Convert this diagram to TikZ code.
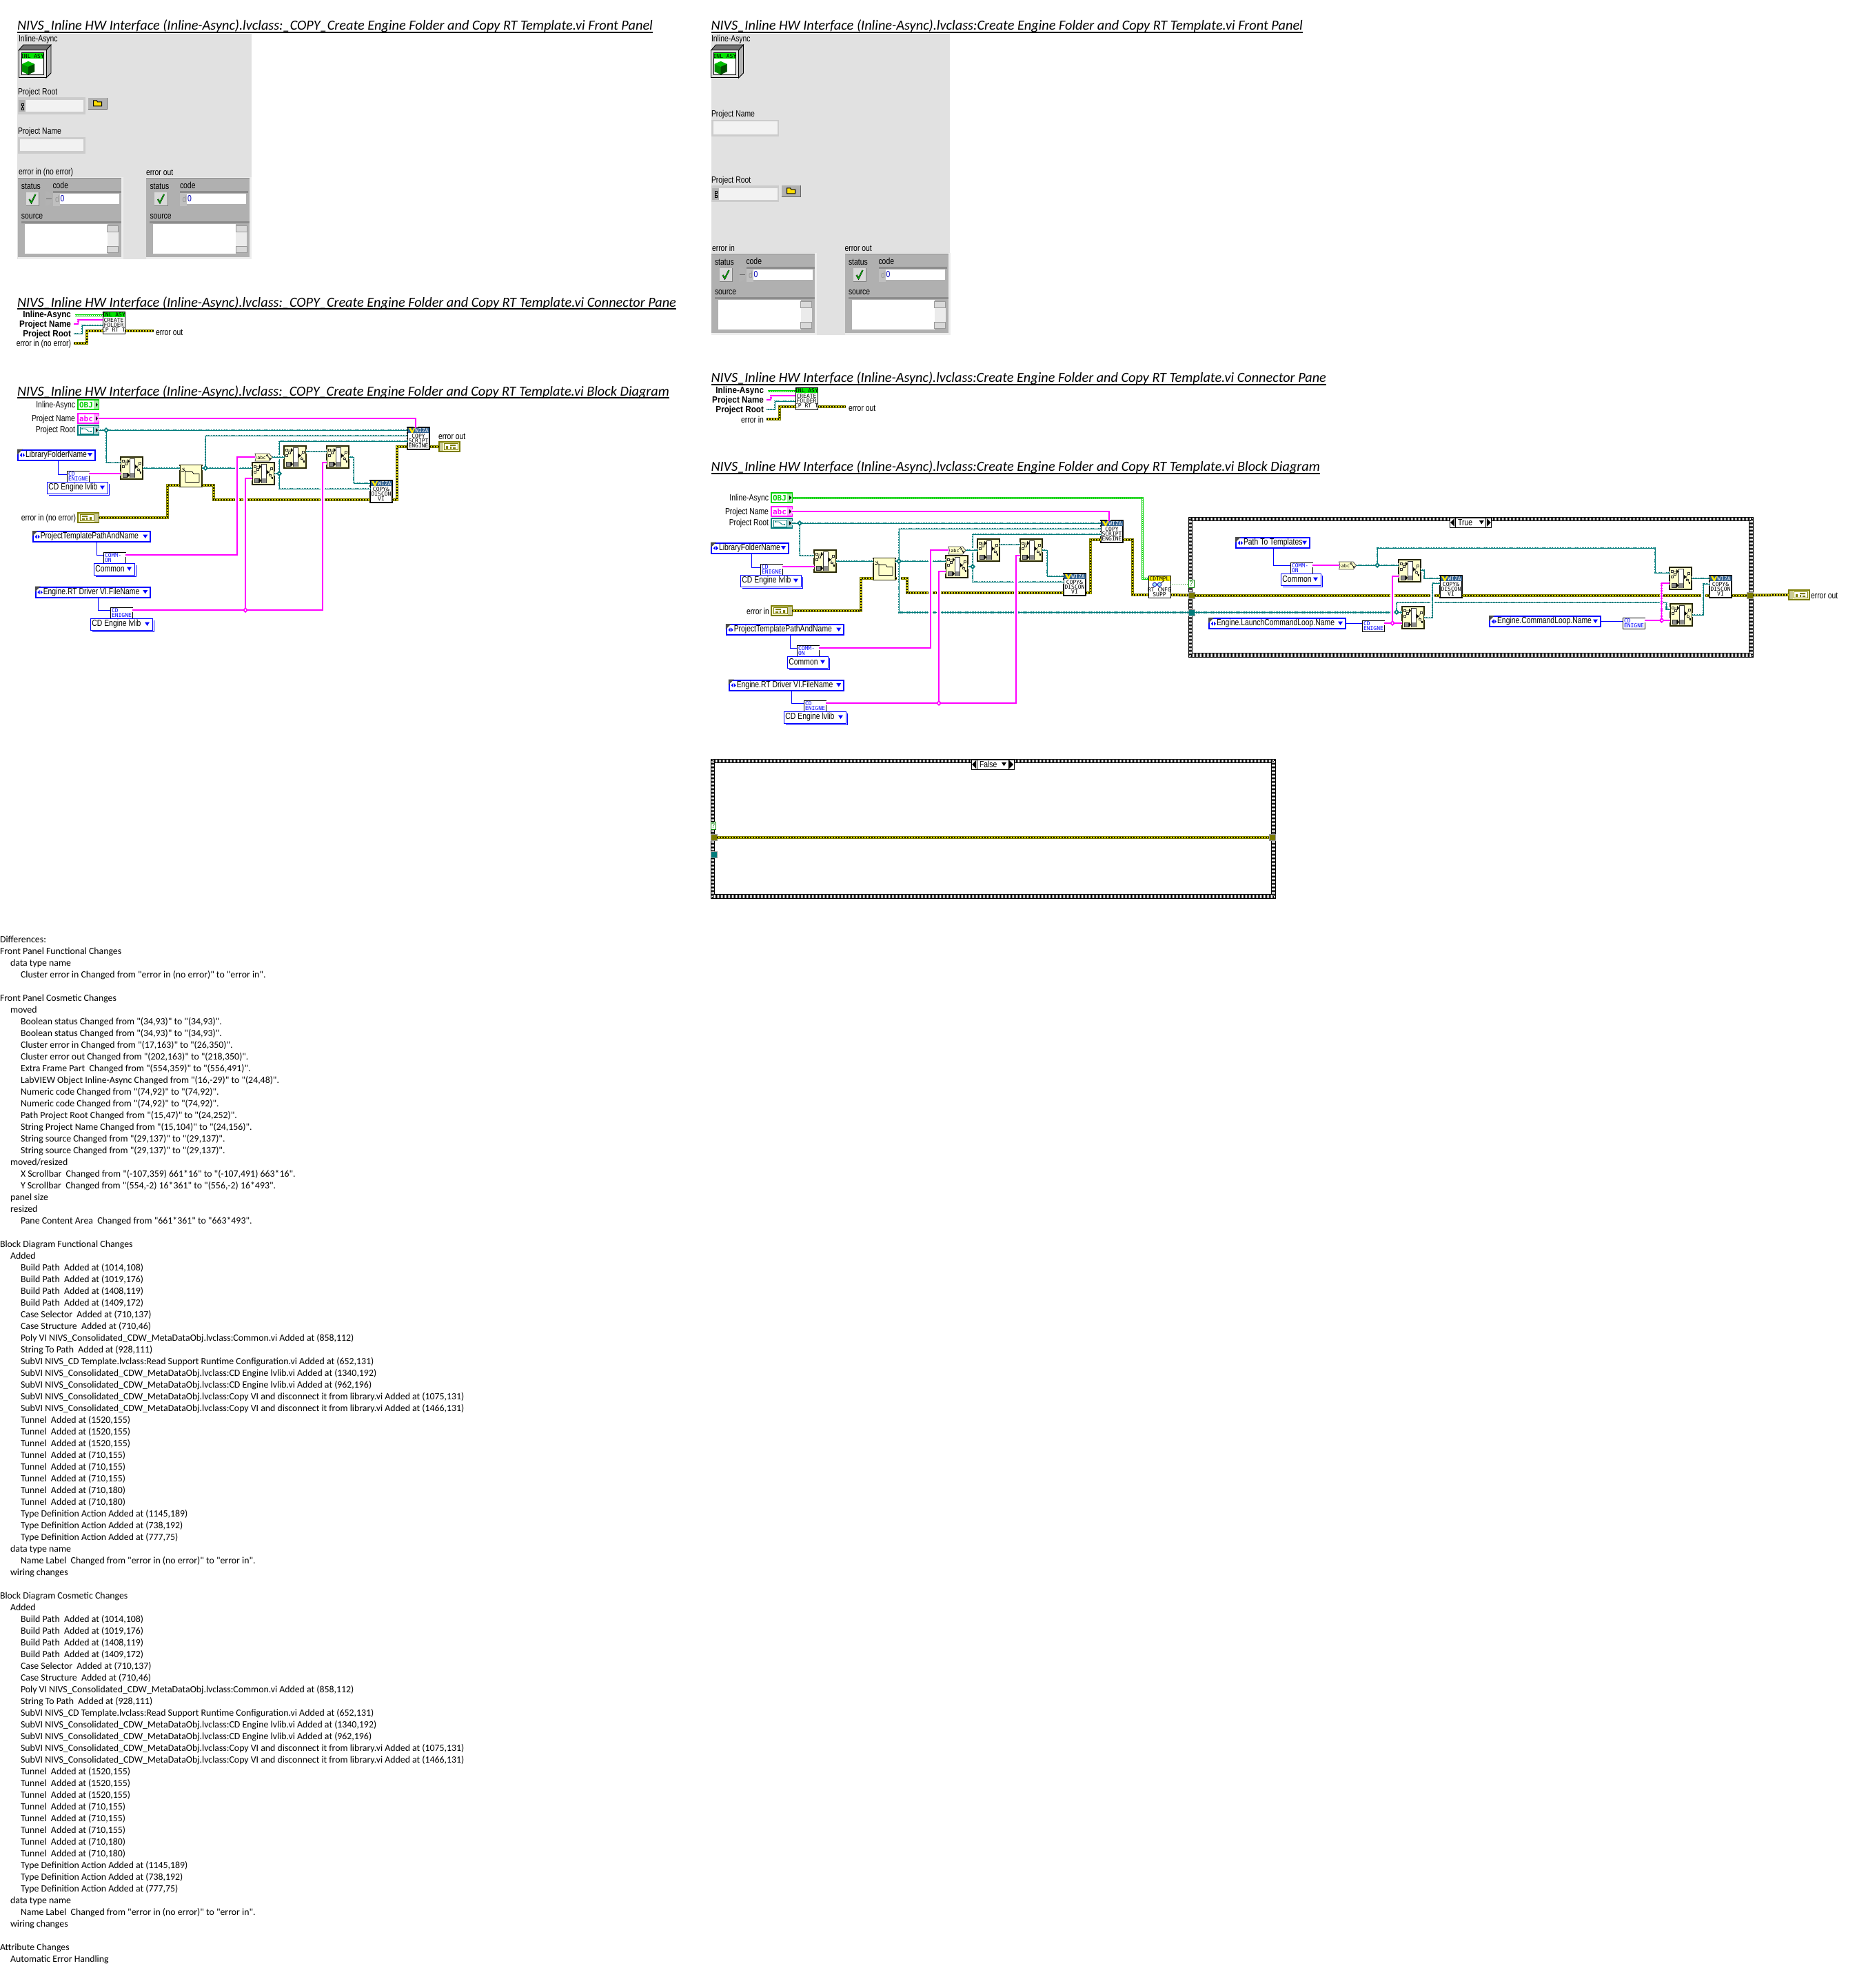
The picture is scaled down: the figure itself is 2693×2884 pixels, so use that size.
\documentclass[tikz,border=0pt]{standalone}
\usepackage{fontspec}
\usepackage{graphicx}
\setmainfont{Carlito}
\newfontfamily\calf{Carlito}
\newfontfamily\lvf[FakeStretch=0.8]{Liberation Sans}
\newfontfamily\lvfb[FakeStretch=0.9]{Liberation Sans}
\newfontfamily\icof{DejaVu Sans Mono}
\definecolor{lvteal}{HTML}{007B7B}
\definecolor{lvpink}{HTML}{FF00FF}
\definecolor{lvolive}{HTML}{7B7B00}
\definecolor{lvgreen}{HTML}{00D000}
\definecolor{lvblue}{HTML}{0000FF}
\definecolor{lvpale}{HTML}{FFFFCC}
\definecolor{lvpanel}{HTML}{E1E1E1}
\definecolor{lvclu}{HTML}{B0B0B0}
\definecolor{lvrim}{HTML}{EDEDED}
\definecolor{lvwiz}{HTML}{2F5F8F}
\tikzset{
 lab/.style={inner sep=0,outer sep=0,font=\lvf\fontsize{6.5}{7}\selectfont},
 dtxt/.style={anchor=base west,inner sep=0,outer sep=0,font=\calf\fontsize{6.92}{8.5}\selectfont},
 wteal/.style={draw=lvteal,line width=.5pt,preaction={draw=white,line width=2.75pt},postaction={draw=lvteal,line width=1.25pt,dash pattern=on .6pt off .6pt}},
 wpink/.style={draw=lvpink,line width=.75pt,preaction={draw=white,line width=2.75pt},postaction={draw=lvpink,line width=1.25pt,dash pattern=on .6pt off .6pt}},
 werr/.style={draw=lvolive,line width=2pt,postaction={draw=yellow,line width=1pt},postaction={draw=black,line width=1pt,dash pattern=on 1pt off 1pt}},
 wgreen/.style={draw=lvgreen,line width=1.5pt,postaction={draw=white,line width=.5pt,dash pattern=on 1pt off .5pt}},
 wblue/.style={draw=lvblue,line width=.5pt},
 wdot/.style={draw=green!50!black,line width=.5pt,dash pattern=on .5pt off 1pt},
 ico/.style={rectangle,draw=black,line width=.5pt,fill=white,inner sep=0,outer sep=0,minimum width=16pt,minimum height=16pt},
 ybox/.style={rectangle,draw=black!70!lvolive,line width=.6pt,fill=lvpale,inner sep=0,outer sep=0,minimum width=16pt,minimum height=16pt},
 small/.style={rectangle,draw=black,line width=.5pt,fill=white,inner sep=0,outer sep=0,minimum width=16pt,minimum height=8pt},
 icotxt/.style={inner sep=0,outer sep=0,align=center,font=\icof\fontsize{4}{3.5}\selectfont},
 term/.style={rectangle,line width=1pt,fill=white,inner sep=0,outer sep=0,minimum width=15pt,minimum height=7pt},
 ringb/.style={rectangle,draw=lvblue,line width=1pt,fill=white,inner sep=0,outer sep=0,minimum height=7.5pt},
 valb/.style={rectangle,draw=lvblue,line width=.5pt,fill=white,inner sep=0,outer sep=0,minimum height=8.5pt},
 tun/.style={rectangle,draw=black!40,line width=.25pt,inner sep=0,outer sep=0,minimum width=4.5pt,minimum height=4.5pt},
 selb/.style={rectangle,draw=black,line width=.5pt,fill=white,inner sep=0,outer sep=0,minimum height=7pt},
 frmb/.style={rectangle,draw=black,fill=white,line width=.5pt,inner sep=0,outer sep=0},
}
% ---- icons
\newcommand\lvbp[3]{%
 \node[ybox] (#1) at (#2,#3) {};
 \begin{scope}[shift={(#2,#3)}]
  \draw[black!80,line width=.5pt,fill=white] (-2.3,-13.7) rectangle (4,13.7);
  \draw[black!80,line width=.5pt,fill=black!45] (-13,7) rectangle (-6.7,13.7);
  \fill[black!45] (-2.3,7) rectangle (4,13.7);
  \fill[black] (-6,6.5) -- (-3,10.3) -- (-6,14) -- cycle;
  \draw[black!70,line width=.3pt] (-12,-10) -- (-8,-6) -- (-12,-2) (-12,-10) -- (-6,-10);
  \fill[black] (-6,-13) -- (-3,-10) -- (-6,-7) -- cycle;
  \draw[black!80,line width=.35pt,fill=lvpale] (-13.2,-11.2) rectangle (-10.8,-8.8) (-9.2,-7.2) rectangle (-6.8,-4.8) (-13.2,-3.2) rectangle (-10.8,-.8);
  \draw[black!70,line width=.3pt] (4,-2) -- (8,-2) (8,-2) -- (12,-7) (8,-2) -- (12,6);
  \fill[black] (5,-5) -- (8.5,-2) -- (5,1) -- cycle;
  \draw[black!80,line width=.35pt,fill=lvpale] (10.8,-8.2) rectangle (13.2,-5.8) (8.8,1) rectangle (11.2,3.4);
  \fill[black] (11.5,5) rectangle (14,7.5);
 \end{scope}}
\newcommand\lvfold[3]{%
 \node[ybox] (#1) at (#2,#3) {};
 \begin{scope}[shift={(#2,#3)}]
  \draw[black,line width=.4pt,fill=lvpale] (-8,-6) -- (2,-6) -- (4,-3) -- (12,-3) -- (12,9) -- (-8,9) -- cycle;
  \draw[black,line width=.3pt] (-13,-11) -- (-7,-6) (-10,-12) -- (-10,-8) (-14,-7) -- (-10,-7);
 \end{scope}}
\newcommand\lvwiz[4]{%
 \node[ico,line width=.75pt] (#1) at (#2,#3) {};
 \begin{scope}[shift={(#2,#3)}]
  \fill[lvwiz] (-15.5,-15.5) rectangle (15.5,-8);
  \fill[yellow!90!orange] (-14,-15) -- (-11,-15) -- (-9,-11) -- (-7,-15) -- (-5,-15) -- (-8,-8) -- (-10,-8) -- cycle;
  \node[icotxt,text=white] (#1w) at (5,-11.7) {WIZA};
  \node[icotxt,text=black] (#1t) at (0,3.5) {#4};
 \end{scope}}
\newcommand\lvsmall[4]{%
 \node[small] (#1) at (#2,#3) {};
 \node[icotxt,align=left,text=lvblue,anchor=west] (#1t) at ([xshift=1pt]#1.west) {#4};}
\newcommand\lvring[5]{% name cx cy w text
 \node[ringb,minimum width=#4*.5pt-1pt] (#1) at (#2,#3) {};
 \fill[black!70] ([shift={(-.5pt,.5pt)}]#1.north west) -- ([shift={(3.5pt,.5pt)}]#1.north west) -- ([shift={(-.5pt,-3.5pt)}]#1.north west) -- cycle;
 \fill[lvblue] ([xshift=1.4pt,yshift=-.2pt]#1.west) -- ([xshift=2.9pt,yshift=1.5pt]#1.west) -- ([xshift=2.9pt,yshift=-1.5pt]#1.west) -- cycle;
 \fill[lvblue] ([xshift=5pt,yshift=-.2pt]#1.west) -- ([xshift=3.5pt,yshift=1.5pt]#1.west) -- ([xshift=3.5pt,yshift=-1.5pt]#1.west) -- cycle;
 \fill[lvblue] ([xshift=-5.5pt,yshift=1.5pt]#1.east) -- ([xshift=-2pt,yshift=1.5pt]#1.east) -- ([xshift=-3.75pt,yshift=-1.2pt]#1.east) -- cycle;
 \node[lab,anchor=west] (#1t) at ([xshift=5.5pt]#1.west) {#5};}
\newcommand\lvval[5]{% name cx cy w text
 \draw[lvblue,line width=.5pt] (#2-#4/2+3,#3+8.5+2) -- (#2+#4/2+2.5,#3+8.5+2) -- (#2+#4/2+2.5,#3-8.5+3);
 \node[valb,minimum width=#4*.5pt] (#1) at (#2,#3) {};
 \fill[lvblue] ([xshift=-5.5pt,yshift=1.5pt]#1.east) -- ([xshift=-2pt,yshift=1.5pt]#1.east) -- ([xshift=-3.75pt,yshift=-1.2pt]#1.east) -- cycle;
 \node[lab,anchor=west] (#1t) at ([xshift=1.2pt]#1.west) {#5};}
\newcommand\lvterm[5]{% name x y color content
 \node[term,draw=#4] (#1) at (#2,#3) {};
 \begin{scope}[shift={(#2,#3)}]
  \fill[#4!35] (8,-6) rectangle (14.5,6);
  \fill[black] (11,-3) -- (14,0) -- (11,3) -- cycle;
  #5
 \end{scope}}
\newcommand\lverr[4]{% name x y dir
 \node[term,draw=lvolive,fill=lvpale] (#1) at (#2,#3) {};
 \begin{scope}[shift={(#2,#3)},xscale=#4]
  \fill[lvolive!40] (9,-6) rectangle (14.5,6);
  \draw[lvolive,line width=.5pt,fill=white] (-12,-4.5) rectangle (8,4.5);
  \fill[lvolive] (-9,-3) rectangle (-1,-1) (-9,1) rectangle (-5,3) (-3,0) rectangle (-1,3) (2,-1) rectangle (5,3);
 \end{scope}}
\newcommand\lvsel[5]{% name cx cy w text
 \node[selb,minimum width=#4*.5pt] (#1) at (#2,#3) {};
 \draw[black,line width=.5pt] ([xshift=4pt]#1.north west) -- ([xshift=4pt]#1.south west);
 \draw[black,line width=.5pt] ([xshift=-4pt]#1.north east) -- ([xshift=-4pt]#1.south east);
 \fill[black] ([xshift=.5pt]#1.west) -- ([xshift=3.5pt,yshift=3pt]#1.west) -- ([xshift=3.5pt,yshift=-3pt]#1.west) -- cycle;
 \fill[black] ([xshift=-.5pt]#1.east) -- ([xshift=-3.5pt,yshift=3pt]#1.east) -- ([xshift=-3.5pt,yshift=-3pt]#1.east) -- cycle;
 \fill[black] ([xshift=-9pt,yshift=1.5pt]#1.east) -- ([xshift=-5.5pt,yshift=1.5pt]#1.east) -- ([xshift=-7.25pt,yshift=-1.2pt]#1.east) -- cycle;
 \node[lab,anchor=west] (#1t) at ([xshift=6pt]#1.west) {#5};}
\newcommand\lvframe[5]{% name cx cy w h (outer size)
 \node[frmb,minimum width=#4*.5pt,minimum height=#5*.5pt] (#1) at (#2,#3) {};
 \foreach \lvo/\lvp in {1/0,2/.5,3/0,4/.5,5/0}{
  \draw[black,line width=.5pt,dash pattern=on .5pt off .5pt,dash phase=\lvp pt] ([shift={(\lvo,-\lvo)}]#1.south west) rectangle ([shift={(-\lvo,\lvo)}]#1.north east);}
 \draw[black,line width=.3pt] ([shift={(5.7,-5.7)}]#1.south west) rectangle ([shift={(-5.7,5.7)}]#1.north east);}
\newcommand\lvjdot[2]{%
 \fill[#2] ([shift={(-4,0)}]#1) -- ([shift={(0,-4)}]#1) -- ([shift={(4,0)}]#1) -- ([shift={(0,4)}]#1) -- cycle;
 \fill[white] ([shift={(-1,-1)}]#1) rectangle ([shift={(1,1)}]#1);}
% ---- front panel parts
\newcommand\lvobj[3]{% name x y
 \begin{scope}[shift={(#2,#3)}]
  \draw[black,line width=.4pt,fill=black!55] (0,8) -- (7,0) -- (47,0) -- (40,8) -- cycle;
  \draw[black,line width=.4pt,fill=black!30] (40,8) -- (47,0) -- (47,41) -- (40,48) -- cycle;
  \draw[black,line width=.5pt,fill=black!12] (0,8) rectangle (40,48);
  \draw[black,line width=.5pt,fill=white] (4,12) rectangle (36,44);
  \fill[green!90!black] (4.5,12.5) rectangle (35.5,20);
  \node[icotxt,text=black] (#1) at (20,16.2) {INL ASY};
  \fill[green!55!black] (5,28) -- (14,24) -- (23,28) -- (23,39) -- (14,43) -- (5,39) -- cycle;
  \fill[green!75!black] (5,28) -- (14,24) -- (23,28) -- (14,32) -- cycle;
  \fill[black!70!green] (14,32) -- (23,28) -- (23,39) -- (14,43) -- cycle;
 \end{scope}}
\newcommand\lvbrowse[3]{% name x y
 \begin{scope}[shift={(#2,#3)}]
  \fill[black!30] (0,0) rectangle (27.5,16);
  \draw[black!60,line width=.25pt] (0,16) -- (27.5,16) -- (27.5,0);
  \draw[black,line width=.5pt,fill=yellow!80!orange] (8,4) -- (13,4) -- (14,6) -- (20,6) -- (20,12) -- (8,12) -- cycle;
  \coordinate (#1) at (0,0);
 \end{scope}}
\newcommand\lvcheck[2]{%
 \fill[black!15] (#1,#2) rectangle (#1+19,#2+19);
 \draw[black!50,line width=.25pt] (#1+19,#2) -- (#1+19,#2+19) -- (#1,#2+19);
 \draw[black,line width=1.1pt] (#1+5,#2+10) -- (#1+8,#2+15) -- (#1+14,#2+3);
 \draw[green!70!black,line width=.6pt] (#1+5,#2+10) -- (#1+8,#2+15) -- (#1+14,#2+3);}
\newcommand\lvcluster[4]{% prefix x y fieldshift
 \begin{scope}[shift={(#2,#3)}]
  \fill[lvrim] (0,0) rectangle (153,119);
  \fill[lvclu] (0,2) rectangle (150,116);
  \draw[black!45,line width=.5pt] (0,2) -- (150,2);
  \node[lab,anchor=west] (#1st) at (5.5,13) {status};
  \lvcheck{12}{22}
  \node[lab,anchor=west] (#1so) at (5.5,57) {source};
  \begin{scope}[shift={(#4,0)}]
   \node[lab,anchor=west] (#1co) at (51,12) {code};
   \fill[black!45] (51,20) rectangle (150,23);
   \fill[black!25] (51,23) rectangle (61,42);
   \fill[white] (61,24) rectangle (147,39);
   \node[lab,anchor=west,text=black!40] (#1d) at (54.5,31.5) {d};
   \node[lab,anchor=west,text=lvblue!70!black] (#1z) at (62,31.5) {0};
  \end{scope}
  \fill[black!45] (5,64) rectangle (150,67);
  \fill[white] (10,68) rectangle (130,111);
  \fill[black!8] (130,70) rectangle (146,109);
  \draw[black!40,line width=.25pt,fill=black!15] (130,70) rectangle (146,79);
  \draw[black!40,line width=.25pt,fill=black!15] (130,100) rectangle (146,109);
 \end{scope}}
\newcommand\lvspin[2]{%
 \fill[black!30] (#1,#2) .. controls (#1+3,#2+1) and (#1+10,#2+2) .. (#1+10,#2+11) .. controls (#1+10,#2+20) and (#1+3,#2+22) .. (#1,#2+22) -- cycle;
 \draw[black!60,line width=.3pt] (#1+1,#2+11) -- (#1+9,#2+11);}
% ---- connector pane
\newcommand\lvcp[3]{% error in label, right end of out wire, error-out label x
 \coordinate (iw) at (108.5,457);
 \coordinate (nw) at (107,470);
 \coordinate (rw) at (107,484);
 \coordinate (ew) at (107,498);
 \coordinate (ow) at (#2,480);
 \node[ico] (cp) at (165,468) {};
 \fill[green!90!black] (149.5,452.5) rectangle (180.5,460);
 \node[icotxt,text=black] (cpa) at (165,456.4) {INL ASY};
 \node[icotxt,text=black] (cpb) at (165,472) {CREATE\\FOLDER\\CP RT T};
 \node[lab,anchor=east,font=\lvfb\bfseries\fontsize{6.5}{7}\selectfont] (l1) at (103,457) {Inline-Async};
 \node[lab,anchor=east,font=\lvfb\bfseries\fontsize{6.5}{7}\selectfont] (l2) at (103,471) {Project\ Name};
 \node[lab,anchor=east,font=\lvfb\bfseries\fontsize{6.5}{7}\selectfont] (l3) at (103,485) {Project\ Root};
 \node[lab,anchor=east] (l4) at (103,499) {#1};
 \node[lab,anchor=west] (l5) at (#3,482) {error out};
 \draw[werr] (ew) -- (125.6,498) -- (125.6,480) -- (cp.west |- 0,480);
 \draw[werr] (cp.east |- 0,480) -- (ow);
 \draw[wteal] (rw) -- (119,484) -- (119,472) -- (cp.west |- 0,472);
 \draw[wpink] (nw) -- (113.5,470) -- (113.5,464) -- (cp.west |- 0,464);
 \draw[wgreen] (iw) -- (cp.west |- iw);}
\newcommand\lvstp[3]{%
 \node[inner sep=0,outer sep=0,minimum width=12.5pt,minimum height=5.5pt] (#1) at (#2,#3) {};
 \begin{scope}[shift={(#2,#3)}]
  \draw[black!70,line width=.4pt,fill=lvpale] (-12.5,-5.5) -- (8,-5.5) -- (12.5,0) -- (8,5.5) -- (-12.5,5.5) -- (-11,0) -- cycle;
  \node[icotxt,font=\icof\fontsize{3.4}{3.4}\selectfont] (#1t) at (-3,.3) {abc};
  \draw[black,line width=.3pt] (5,-3) -- (9,2);
  \draw[black,line width=.3pt,fill=white] (5,-3) circle[radius=1.2] (9,2) circle[radius=1.2];
 \end{scope}}
% ---- common block diagram
\newcommand\lvbd[2]{% error in label, hook drawn after the error wires
 \node[lab,anchor=east] (ial) at (109,588) {Inline-Async};
 \node[lab,anchor=east] (pnl) at (109,608) {Project Name};
 \node[lab,anchor=east] (prl) at (109,624) {Project Root};
 \node[lab,anchor=east] (eil) at (110,752) {#1};
 \lvterm{ia}{128}{587}{lvgreen}{\node[icotxt,text=lvgreen,font=\icof\bfseries\fontsize{5.5}{5.5}\selectfont] (iat) at (-3,0) {OBJ};}
 \lvterm{pn}{128}{607}{lvpink}{\node[icotxt,text=lvpink,font=\icof\bfseries\fontsize{5.5}{5.5}\selectfont] (pnt) at (-3,0) {abc};}
 \lvterm{pr}{128}{624}{lvteal}{\draw[lvteal,line width=.4pt,fill=white] (-12,-5) rectangle (7,5); \draw[lvteal,line width=.4pt] (-9,-2) -- (-4,-2) -- (1,2) -- (5,2); \fill[lvteal] (-9,-2) circle[radius=1.2] (4,2) circle[radius=1.2];}
 \lverr{ei}{128}{751}{1}
 \lvring{lfn}{82}{660}{114}{LibraryFolderName}
 \lvsmall{cd1}{113}{691}{CD\\ENIGNE}
 \lvval{vcd1}{112}{707.5}{88}{CD Engine lvlib}
 \lvring{ptn}{133}{778.5}{172.5}{ProjectTemplatePathAndName}
 \lvsmall{com}{166}{809}{COMM-\\ON}
 \lvval{vcom}{165.5}{825.5}{59}{Common}
 \lvring{ert}{135}{859}{168.5}{Engine.RT Driver VI.FileName}
 \lvsmall{cd2}{176}{889}{CD\\ENIGNE}
 \lvval{vcd2}{176}{905.5}{90}{CD Engine lvlib}
 \lvbp{bp1}{191}{679}
 \lvfold{fo}{277}{690.5}
 \lvbp{bp2}{382}{687}
 \lvbp{bp3}{428}{663}
 \lvbp{bp4}{490}{663}
 \lvstp{stp}{382.5}{663.5}
 \lvwiz{cd}{553}{713}{COPY\&\\DISCON\\VI}
 \lvwiz{cs}{607}{636}{COPY\\SCRIPT\\ENGINE}
 \coordinate (j1) at (154,624);
 \coordinate (j2) at (298,679);
 \coordinate (j3) at (405,687);
 \coordinate (j4) at (356,885);
 % error
 \draw[werr] (ei.east) -- (243,751) -- (243,704) -- (fo.west |- 0,704);
 \draw[werr] (fo.east |- 0,704) -- (310,704) -- (310,725) -- (cd.west |- 0,725);
 \draw[werr] (cd.east |- 0,725) -- (576,725) -- (576,648) -- (cs.west |- 0,648);
 % blue
 \draw[wblue] (lfn.south -| 84,0) -- (84,688) -- (cd1.west |- 0,688);
 \draw[wblue] (ptn.south -| 140,0) -- (140,805) -- (com.west |- 0,805);
 \draw[wblue] (ert.south -| 142,0) -- (142,885) -- (cd2.west |- 0,885);
 #2
 % teal
 \draw[wteal] (j1) -- (154,671) -- (bp1.west |- 0,671);
 \draw[wteal] (pr.east |- 0,624) -- (cs.west |- 0,624);
 \draw[wteal] (bp1.east |- 0,679) -- (fo.west |- 0,679);
 \draw[wteal] (j2) -- (298,632) -- (cs.west |- 0,632);
 \draw[wteal] (fo.east |- 0,679) -- (bp2.west |- 0,679);
 \draw[wteal] (j3) -- (405,640) -- (cs.west |- 0,640);
 \draw[wteal] (j3) -- (405,709) -- (cd.west |- 0,709);
 \draw[wteal] (bp2.east |- 0,687) -- (j3);
 \draw[wteal] (stp.east |- 0,663) -- (bp3.west |- 0,663);
 \draw[wteal] (bp3.east |- 0,655) -- (bp4.west |- 0,655);
 \draw[wteal] (bp4.east |- 0,663) -- (513,663) -- (513,701) -- (cd.west |- 0,701);
 % magenta
 \draw[wpink] (cd1.east |- 0,687) -- (bp1.west |- 0,687);
 \draw[wpink] (pn.east) -- (603,607) -- (cs.north -| 603,0);
 \draw[wpink] (com.east |- 0,805) -- (344,805) -- (344,663) -- (stp.west |- 0,663);
 \draw[wpink] (j4) -- (356,694) -- (bp2.west |- 0,694);
 \draw[wpink] (cd2.east |- 0,885) -- (468,885) -- (468,671) -- (bp4.west |- 0,671);
 \lvjdot{j1}{lvteal}
 \lvjdot{j2}{lvteal}
 \lvjdot{j3}{lvteal}
 \lvjdot{j4}{lvpink}}
% ---- differences text
\newcount\lvln
\newcommand\dl[2]{\node[dtxt] (d\the\lvln) at (#1,{1367+17*\the\lvln}) {#2};\global\advance\lvln by 1\relax}
\newcommand\lO[1]{\dl{0}{#1}}
\newcommand\lI[1]{\dl{15}{#1}}
\newcommand\lII[1]{\dl{30}{#1}}
\newcommand\lB{\global\advance\lvln by 1\relax}
\newcommand\lvadded{%
\lI{Added}
\lII{Build Path\ \ Added at (1014,108)}
\lII{Build Path\ \ Added at (1019,176)}
\lII{Build Path\ \ Added at (1408,119)}
\lII{Build Path\ \ Added at (1409,172)}
\lII{Case Selector\ \ Added at (710,137)}
\lII{Case Structure\ \ Added at (710,46)}
\lII{Poly VI NIVS\_Consolidated\_CDW\_MetaDataObj.lvclass:Common.vi Added at (858,112)}
\lII{String To Path\ \ Added at (928,111)}
\lII{SubVI NIVS\_CD Template.lvclass:Read Support Runtime Configuration.vi Added at (652,131)}
\lII{SubVI NIVS\_Consolidated\_CDW\_MetaDataObj.lvclass:CD Engine lvlib.vi Added at (1340,192)}
\lII{SubVI NIVS\_Consolidated\_CDW\_MetaDataObj.lvclass:CD Engine lvlib.vi Added at (962,196)}
\lII{SubVI NIVS\_Consolidated\_CDW\_MetaDataObj.lvclass:Copy VI and disconnect it from library.vi Added at (1075,131)}
\lII{SubVI NIVS\_Consolidated\_CDW\_MetaDataObj.lvclass:Copy VI and disconnect it from library.vi Added at (1466,131)}
\lII{Tunnel\ \ Added at (1520,155)}
\lII{Tunnel\ \ Added at (1520,155)}
\lII{Tunnel\ \ Added at (1520,155)}
\lII{Tunnel\ \ Added at (710,155)}
\lII{Tunnel\ \ Added at (710,155)}
\lII{Tunnel\ \ Added at (710,155)}
\lII{Tunnel\ \ Added at (710,180)}
\lII{Tunnel\ \ Added at (710,180)}
\lII{Type Definition Action Added at (1145,189)}
\lII{Type Definition Action Added at (738,192)}
\lII{Type Definition Action Added at (777,75)}
\lI{data type name}
\lII{Name Label\ \ Changed from "error in (no error)" to "error in".}
\lI{wiring changes}}
\newcommand\lvtitle[5]{% name x baseline width text
 \node[anchor=base west,inner sep=0,outer sep=0,font=\calf\itshape\fontsize{9.5}{11}\selectfont] (#1) at (#2,#3) {\resizebox{#4}{!}{#5}};
 \draw[black,line width=1pt] ([yshift=-1.5pt]#1.base west) -- ([yshift=-1.5pt]#1.base east);}
\begin{document}
\begin{tikzpicture}[x=.5pt,y=-.5pt,line join=miter,line cap=butt]
\path[use as bounding box,fill=white] (0,0) rectangle (2693,2884);
% titles
\lvtitle{t1}{25}{44}{461pt}{NIVS\_Inline HW Interface (Inline-Async).lvclass:\_COPY\_Create Engine Folder and Copy RT Template.vi Front Panel}
\lvtitle{t2}{25}{445}{478pt}{NIVS\_Inline HW Interface (Inline-Async).lvclass:\_COPY\_Create Engine Folder and Copy RT Template.vi Connector Pane}
\lvtitle{t3}{25}{574}{473pt}{NIVS\_Inline HW Interface (Inline-Async).lvclass:\_COPY\_Create Engine Folder and Copy RT Template.vi Block Diagram}
\lvtitle{t4}{1031.5}{44}{429.25pt}{NIVS\_Inline HW Interface (Inline-Async).lvclass:Create Engine Folder and Copy RT Template.vi Front Panel}
\lvtitle{t5}{1031.5}{554.5}{446.25pt}{NIVS\_Inline HW Interface (Inline-Async).lvclass:Create Engine Folder and Copy RT Template.vi Connector Pane}
\lvtitle{t6}{1031.5}{683.7}{441.75pt}{NIVS\_Inline HW Interface (Inline-Async).lvclass:Create Engine Folder and Copy RT Template.vi Block Diagram}
% ---------- front panel 1
\fill[lvpanel] (25,49) rectangle (365,376);
\node[lab,anchor=west] (fa1) at (27,57) {Inline-Async};
\lvobj{ob1}{27}{65}
\node[lab,anchor=west] (fr1) at (26,134) {Project Root};
\fill[black!20] (25.5,141) rectangle (124,166);
\fill[white!95!black] (37,145) rectangle (121,162);
\fill[black!30] (27,145) rectangle (37,162);
\draw[black,line width=.4pt] (31,150) rectangle (34,153) (32.5,153) -- (32.5,156) (31,156) rectangle (34,159);
\lvbrowse{br1}{127.5}{142}
\node[lab,anchor=west] (fn1) at (26,191) {Project Name};
\fill[black!20] (25.5,199) rectangle (124,223);
\fill[white!95!black] (29,202) rectangle (121,219);
\node[lab,anchor=west] (fe1) at (27,250) {error in (no error)};
\node[lab,anchor=west] (fo1) at (212,250) {error out};
\lvcluster{ca}{25.5}{257}{0}
\lvspin{66}{277}
\lvcluster{cb}{212}{257}{-2}
% ---------- front panel 2
\fill[lvpanel] (1031.5,49) rectangle (1378,486);
\node[lab,anchor=west] (fa2) at (1032,57) {Inline-Async};
\lvobj{ob2}{1031.5}{65}
\node[lab,anchor=west] (fn2) at (1032,166) {Project Name};
\fill[black!20] (1031.5,174) rectangle (1130,198);
\fill[white!95!black] (1035,176) rectangle (1128,195);
\node[lab,anchor=west] (fr2) at (1032,262) {Project Root};
\fill[black!20] (1031.5,269) rectangle (1130,293);
\fill[white!95!black] (1043,273) rectangle (1128,290);
\fill[black!30] (1033,273) rectangle (1043,290);
\draw[black,line width=.4pt] (1037,277) rectangle (1040,280) (1038.5,280) -- (1038.5,283) (1037,283) rectangle (1040,286);
\lvbrowse{br2}{1133.7}{269}
\node[lab,anchor=west] (fe2) at (1033,360) {error in};
\node[lab,anchor=west] (fo2) at (1225.5,360) {error out};
\lvcluster{cc}{1031.5}{367}{0}
\lvspin{1072}{387}
\lvcluster{cd}{1225.5}{367}{-2}
% ---------- connector panes
\begin{scope}[name prefix=L-]
 \lvcp{error in (no error)}{223}{226}
\end{scope}
\begin{scope}[shift={(1005,110)},name prefix=M-]
 \lvcp{error in}{222}{226}
\end{scope}
% ---------- case structures and right side parts
\lvframe{tru}{2133.5}{851.5}{819}{203}
\lvframe{fal}{1440.5}{1202}{819}{202}
\lvsel{trs}{2133.5}{758}{60.6}{True}
\lvsel{fas}{1440}{1109}{62}{False}
\node[tun,fill=lvolive] (te1) at (1728.5,863.5) {};
\node[tun,fill=lvolive] (te2) at (2538.5,863.5) {};
\node[tun,fill=lvteal] (tt1) at (1728.5,888.5) {};
\node[rectangle,draw=green!50!black,line width=.4pt,fill=white,inner sep=0,outer sep=0,minimum width=4pt,minimum height=5.5pt,text=green!50!black,font=\lvf\fontsize{5.5}{6}\selectfont] (ts1) at (1728,847) {?};
\node[tun,fill=lvolive] (te3) at (1035.5,1214.5) {};
\node[tun,fill=lvolive] (te4) at (1845.5,1214.5) {};
\node[tun,fill=lvteal] (tt3) at (1035.5,1239.5) {};
\node[rectangle,draw=green!50!black,line width=.4pt,fill=white,inner sep=0,outer sep=0,minimum width=3.5pt,minimum height=5.5pt,text=green!50!black,font=\lvf\fontsize{5.5}{6}\selectfont] (ts3) at (1034.5,1198) {?};
\draw[werr] (te3.east) -- (te4.west);
% ---------- left block diagram
\node[lab,anchor=west] (eol) at (636,633) {error out};
\lverr{eo}{652}{648}{-1}
\lvbd{error in (no error)}{}
\draw[werr] (cs.east |- 0,648) -- (eo.west);
% ---------- right block diagram
\begin{scope}[shift={(1006,135)},name prefix=R-]
 \lvbd{error in}{\begin{scope}[name prefix=]\draw[wteal] (R-j2) -- (R-j2 |- tt1.west) -- (tt1.west);\end{scope}}
\end{scope}
\lvjdot{R-j2}{lvteal}
\node[ico] (rt) at (1682,851) {};
\fill[yellow] (1666.5,835.5) rectangle (1697.5,843);
\node[icotxt,text=black] (rtb) at (1682,839.5) {CDTMPL};
\draw[lvblue!70!black,line width=.4pt,fill=cyan!40] (1675,848) circle[radius=2.8] (1682,848) circle[radius=2.8];
\draw[black,line width=.4pt] (1684,846) -- (1689,842);
\node[icotxt,text=black] (rtt) at (1682,859) {RT CNFG\\SUPP};
\draw[wgreen] (R-ia.east) -- (1657,722) -- (1657,839) -- (rt.west |- 0,839);
\draw[werr] (R-cs.east |- 0,783) -- (1643,783) -- (1643,863) -- (rt.west |- 0,863);
\draw[werr] (rt.east |- 0,863) -- (te1.west);
\draw[wdot] (rt.east |- 0,847) -- (ts1.west);
% ---------- true case contents
\lvring{ptt}{1846.5}{787.5}{109}{Path To Templates}
\lvsmall{tcom}{1888}{824}{COMM-\\ON}
\lvval{tvcom}{1887}{840.5}{58}{Common}
\lvstp{tstp}{1955}{820.5}
\lvbp{ba}{2045}{828}
\lvbp{bb}{2050}{896}
\lvbp{bc}{2438}{839}
\lvbp{bd}{2439}{892}
\lvwiz{ca2}{2105}{851}{COPY\&\\DISCON\\VI}
\lvwiz{cb2}{2496}{851}{COPY\&\\DISCON\\VI}
\lvring{lcl}{1853}{904.5}{200}{Engine.LaunchCommandLoop.Name}
\lvsmall{tcd1}{1992}{908}{CD\\ENIGNE}
\lvring{cl}{2241.5}{901.5}{163}{Engine.CommandLoop.Name}
\lvsmall{tcd2}{2370}{904}{CD\\ENIGNE}
\lverr{teo}{2610}{863}{-1}
\node[lab,anchor=west] (teol) at (2627,864) {error out};
\coordinate (tj1) at (1998,820);
\coordinate (tj2) at (2026,888);
\coordinate (tj3) at (2020,904);
\coordinate (tj4) at (2410.6,900);
\draw[werr] (te1.east) -- (ca2.west |- te1.east);
\draw[werr] (ca2.east |- te1.east) -- (cb2.west |- te1.east);
\draw[werr] (cb2.east |- te1.east) -- (te2.west);
\draw[werr] (te2.east) -- (teo.west);
\draw[wblue] (ptt.south -| 1847,0) -- (1847,820) -- (tcom.west |- 0,820);
\draw[wblue,line width=.75pt] (lcl.east) -- (tcd1.west |- lcl.east);
\draw[wblue,line width=.75pt] (cl.east) -- (tcd2.west |- cl.east);
\draw[wteal] (tt1.east) -- (bb.west |- tt1.east);
\draw[wteal] (tj2) -- (2026,874) -- (2417.5,874) -- (2417.5,884) -- (bd.west |- 0,884);
\draw[wteal] (tstp.east |- 0,820) -- (ba.west |- 0,820);
\draw[wteal] (tj1) -- (1998,795) -- (2401,795) -- (2401,831) -- (bc.west |- 0,831);
\draw[wteal] (ba.east |- 0,827) -- (2066,827) -- (2066,839) -- (ca2.west |- 0,839);
\draw[wteal] (bb.east |- 0,896) -- (2078,896) -- (2078,846) -- (ca2.west |- 0,846);
\draw[wteal] (bc.east |- 0,839) -- (cb2.west |- 0,839);
\draw[wteal] (bd.east |- 0,892) -- (2471,892) -- (2471,847) -- (cb2.west |- 0,847);
\draw[wpink] (tcom.east |- 0,820) -- (tstp.west |- 0,820);
\draw[wpink] (tcd1.east |- 0,904) -- (bb.west |- 0,904);
\draw[wpink] (tj3) -- (2020,836) -- (ba.west |- 0,836);
\draw[wpink] (tcd2.east |- 0,900) -- (bd.west |- 0,900);
\draw[wpink] (tj4) -- (2410.6,846) -- (bc.west |- 0,846);
\lvjdot{tj1}{lvteal}
\lvjdot{tj2}{lvteal}
\lvjdot{tj3}{lvpink}
\lvjdot{tj4}{lvpink}
% ---------- differences
\lO{Differences:}
\lO{Front Panel Functional Changes}
\lI{data type name}
\lII{Cluster error in Changed from "error in (no error)" to "error in".}
\lB
\lO{Front Panel Cosmetic Changes}
\lI{moved}
\lII{Boolean status Changed from "(34,93)" to "(34,93)".}
\lII{Boolean status Changed from "(34,93)" to "(34,93)".}
\lII{Cluster error in Changed from "(17,163)" to "(26,350)".}
\lII{Cluster error out Changed from "(202,163)" to "(218,350)".}
\lII{Extra Frame Part\ \ Changed from "(554,359)" to "(556,491)".}
\lII{LabVIEW Object Inline-Async Changed from "(16,-29)" to "(24,48)".}
\lII{Numeric code Changed from "(74,92)" to "(74,92)".}
\lII{Numeric code Changed from "(74,92)" to "(74,92)".}
\lII{Path Project Root Changed from "(15,47)" to "(24,252)".}
\lII{String Project Name Changed from "(15,104)" to "(24,156)".}
\lII{String source Changed from "(29,137)" to "(29,137)".}
\lII{String source Changed from "(29,137)" to "(29,137)".}
\lI{moved/resized}
\lII{X Scrollbar\ \ Changed from "(-107,359) 661*16" to "(-107,491) 663*16".}
\lII{Y Scrollbar\ \ Changed from "(554,-2) 16*361" to "(556,-2) 16*493".}
\lI{panel size}
\lI{resized}
\lII{Pane Content Area\ \ Changed from "661*361" to "663*493".}
\lB
\lO{Block Diagram Functional Changes}
\lvadded
\lB
\lO{Block Diagram Cosmetic Changes}
\lvadded
\lB
\lO{Attribute Changes}
\lI{Automatic Error Handling}
\end{tikzpicture}
\end{document}
